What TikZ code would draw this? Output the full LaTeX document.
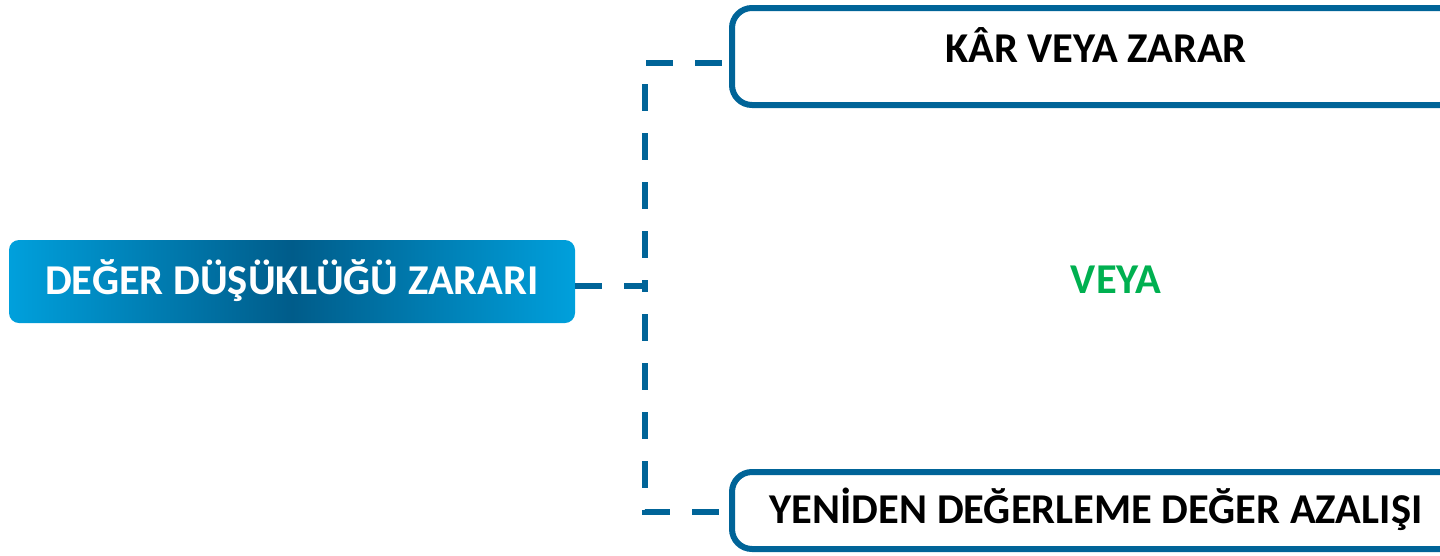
\documentclass[tikz,border=0pt]{standalone}
\usepackage{fontspec}
\setmainfont{Carlito}
\definecolor{lineblue}{RGB}{0,100,152}
\definecolor{lightblue}{RGB}{0,160,220}
\definecolor{darkblue}{RGB}{0,92,138}
\definecolor{veyagreen}{RGB}{0,176,80}
\tikzset{
  bigtext/.style={font=\fontsize{42.5}{46}\selectfont\bfseries},
  mainbox/.style={bigtext, rounded corners=10pt, left color=lightblue, right color=lightblue, middle color=darkblue,
    text=white, minimum width=566pt, minimum height=83pt, inner sep=0pt},
  outbox/.style={bigtext, draw=lineblue, line width=6pt, rounded corners=20pt, fill=white,
    text=black, inner sep=0pt},
  conn/.style={draw=lineblue, line width=6pt, dash pattern=on 27pt off 22pt},
}
\begin{document}
\begin{tikzpicture}[x=1pt,y=-1pt]
\useasboundingbox (0,0) rectangle (1440,555);
\node[mainbox] (main) at (292,281.5) {\raisebox{-13pt}[0pt][0pt]{DEĞER DÜŞÜKLÜĞÜ ZARARI}};
\node[outbox, minimum width=728pt, minimum height=97pt] (top) at (1096,56.5) {\raisebox{-6pt}[0pt][0pt]{KÂR VEYA ZARAR}};
\node[outbox, minimum width=728pt, minimum height=77pt] (bot) at (1096,510.5) {\raisebox{-13pt}[0pt][0pt]{YENİDEN DEĞERLEME DEĞER AZALIŞI}};
\node[bigtext, text=veyagreen] (veya) at (1116,280) {VEYA};
\coordinate (vx) at (645,0);
\draw[conn] ([yshift=-4.5pt]main.east) -- ([yshift=-4.5pt]main.east -| vx) |- ([yshift=-6.5pt]top.west);
\draw[conn] ([yshift=-4.5pt]main.east) -- ([yshift=-4.5pt]main.east -| vx) |- ([yshift=-1.5pt]bot.west);
\end{tikzpicture}
\end{document}
